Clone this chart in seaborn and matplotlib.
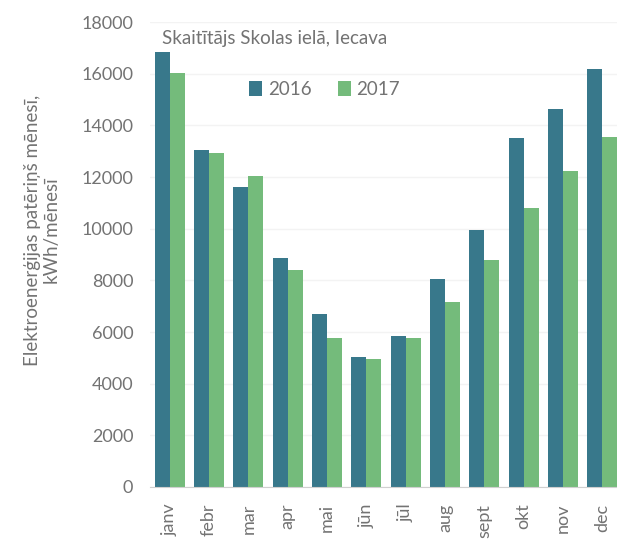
from matplotlib import pyplot as plt
import pandas as pd
import seaborn as sns

# Monthly electricity use, meter on Skolas street, Iecava
months = ["janv", "febr", "mar", "apr", "mai", "jūn", "jūl", "aug", "sept", "okt", "nov", "dec"]
kwh_2016 = [16850, 13050, 11600, 8850, 6700, 5050, 5850, 8050, 9950, 13500, 14650, 16200]
kwh_2017 = [16050, 12950, 12050, 8400, 5750, 4950, 5750, 7150, 8800, 10800, 12250, 13550]
years = ["2016", "2017"]

df = pd.DataFrame({
    "Mēnesis": months * 2,
    "kWh": kwh_2016 + kwh_2017,
    "Gads": [years[0]] * 12 + [years[1]] * 12,
})

sns.set_style("white")
plt.rcParams['font.family'] = ['Lato', 'DejaVu Sans']
grey = "#737373"

fig = plt.figure(figsize=(6.17, 5.54), dpi=100)
ax = fig.add_axes([0.243, 0.121, 0.765, 0.839])

sns.barplot(data=df, x="Mēnesis", y="kWh", hue="Gads",
            palette=["#38788b", "#74bb7b"], saturation=1,
            width=0.76, gap=0, linewidth=0, ax=ax)

ax.set_ylim(0, 18000)
ax.set_yticks(range(0, 18001, 2000))
ax.set_xlim(-0.5, 11.5)
ax.grid(axis="y", color="#f3f3f3", linewidth=1)
ax.set_axisbelow(True)
for s in ["top", "right", "left"]:
    ax.spines[s].set_visible(False)
ax.spines["bottom"].set_color("#d0d0d0")

ax.tick_params(axis="y", length=0, labelsize=13, labelcolor=grey, pad=12)
ax.tick_params(axis="x", which="major", length=0, labelsize=13,
               labelcolor=grey, pad=12, labelrotation=90)
ax.set_xticks([i - 0.5 for i in range(13)], minor=True)
ax.tick_params(axis="x", which="minor", length=8, color="#d0d0d0")
for lbl in ax.get_xticklabels():
    lbl.set_va("top")

ax.set_xlabel("")
ax.set_ylabel("")
fig.text(0.068, 0.585, "Elektroenerģijas patēriņš mēnesī,\nkWh/mēnesī",
         rotation=90, ha="center", va="center", fontsize=13.5, color=grey,
         linespacing=1.1)

ax.text(0.025, 0.965, "Skaitītājs Skolas ielā, Iecava", transform=ax.transAxes,
        fontsize=13.5, color=grey, ha="left", va="center")

ax.legend(loc="center", bbox_to_anchor=(0.37, 0.855), ncol=2, frameon=False,
          fontsize=13.5, labelcolor=grey, handlelength=0.7, handleheight=0.9,
          handletextpad=0.3, columnspacing=1.4)

fig.savefig("out.png", dpi=100)
